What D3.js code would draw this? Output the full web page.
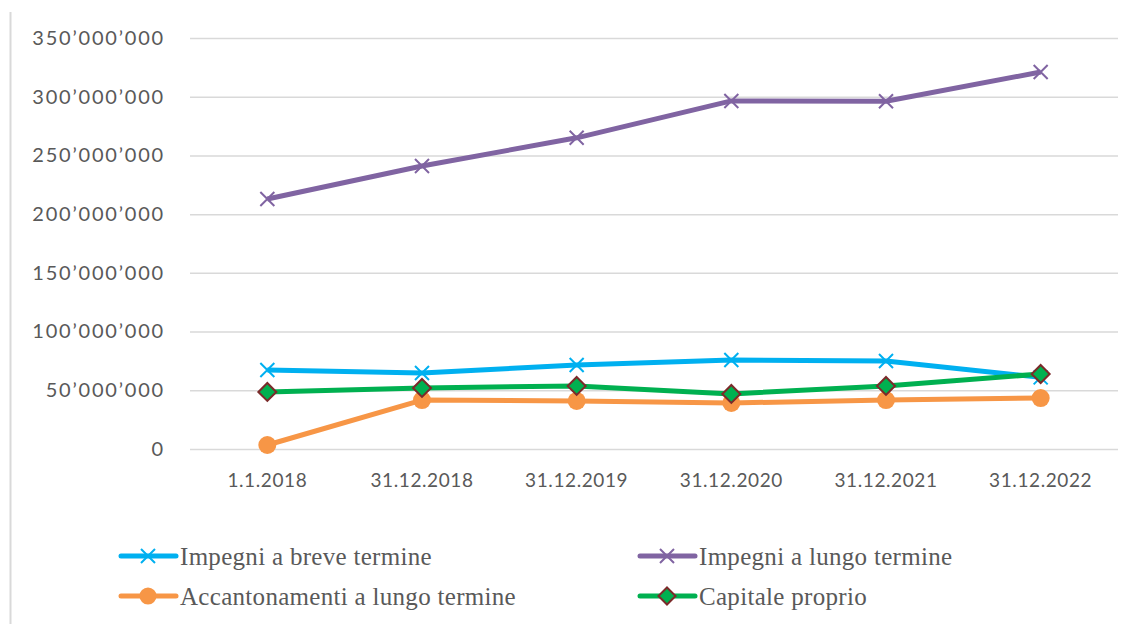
<!DOCTYPE html>
<html lang="en">
<head>
<meta charset="utf-8">
<title>Impegni e capitale</title>
<script src="https://cdn.jsdelivr.net/npm/d3@7"></script>
<style>
  body { margin: 0; background: #fff; }
  .tick text { fill: #595959; font-family: Lato, "Noto Sans", sans-serif; }
  .legend text { fill: #595959; font-family: "Liberation Serif", "DejaVu Serif", serif; }
</style>
</head>
<body>
<script>
// categories and series
var categories = ["1.1.2018", "31.12.2018", "31.12.2019", "31.12.2020", "31.12.2021", "31.12.2022"];
var breve = [67300000, 64700000, 71500000, 75800000, 75000000, 61000000];
var lungo = [212900000, 241000000, 265000000, 296400000, 296200000, 321000000];
var accantonamenti = [3400000, 41700000, 40900000, 39200000, 41700000, 43400000];
var capitale = [48600000, 52000000, 53700000, 46900000, 53700000, 63900000];
var yTicks = [0, 50000000, 100000000, 150000000, 200000000, 250000000, 300000000, 350000000];

var series = [
  {name: "Impegni a breve termine", values: breve, color: "#00b0f0", marker: "x"},
  {name: "Impegni a lungo termine", values: lungo, color: "#8064a2", marker: "x"},
  {name: "Accantonamenti a lungo termine", values: accantonamenti, color: "#f79646", marker: "circle"},
  {name: "Capitale proprio", values: capitale, color: "#00b050", marker: "diamond"}
];

var w = 1134, h = 624;
var plotLeft = 190, plotRight = 1118, plotTop = 38, plotBottom = 449;

var svg = d3.select("body").append("svg")
  .attr("width", w)
  .attr("height", h);

// left frame edge
svg.append("line")
  .attr("x1", 10.5).attr("x2", 10.5)
  .attr("y1", 12).attr("y2", h)
  .attr("stroke", "#d9d9d9")
  .attr("stroke-width", 2);

var x = d3.scaleBand().domain(categories).range([plotLeft, plotRight]);
var y = d3.scaleLinear().domain([0, 350000000]).range([plotBottom, plotTop]);

var fmt = function(d) {
  return d3.format(",")(d).replace(/,/g, "\u2019");
};

// y axis with gridlines
var yAxis = svg.append("g")
  .attr("transform", "translate(" + plotLeft + ",0)")
  .call(d3.axisLeft(y).tickValues(yTicks).tickSize(-(plotRight - plotLeft)).tickPadding(25).tickFormat(fmt));
yAxis.select(".domain").remove();
yAxis.selectAll(".tick line").attr("stroke", "#d9d9d9").attr("stroke-width", 1.5);
yAxis.selectAll(".tick text").attr("font-size", 20).attr("letter-spacing", 1.8);

// x axis
var xAxis = svg.append("g")
  .attr("transform", "translate(0," + plotBottom + ")")
  .call(d3.axisBottom(x).tickSize(0).tickPadding(25));
xAxis.select(".domain").remove();
xAxis.selectAll(".tick text").attr("font-size", 19).attr("letter-spacing", 0.6);

var line = d3.line()
  .x(function(d, i) { return x(categories[i]) + x.bandwidth() / 2; })
  .y(function(d) { return y(d); });

function drawMarker(g, type, color, cx, cy, scale) {
  scale = scale || 1;
  if (type == "x") {
    var s = 7 * scale;
    g.append("path")
      .attr("d", "M" + (cx - s) + "," + (cy - s) + "L" + (cx + s) + "," + (cy + s) +
                 "M" + (cx - s) + "," + (cy + s) + "L" + (cx + s) + "," + (cy - s))
      .attr("stroke", color)
      .attr("stroke-width", 2)
      .attr("fill", "none");
  } else if (type == "circle") {
    g.append("circle")
      .attr("cx", cx).attr("cy", cy)
      .attr("r", 9 * scale)
      .attr("fill", color);
  } else {
    var r = 9 * scale;
    g.append("path")
      .attr("d", "M" + cx + "," + (cy - r) + "L" + (cx + r) + "," + cy + "L" + cx + "," + (cy + r) + "L" + (cx - r) + "," + cy + "Z")
      .attr("fill", color)
      .attr("stroke", "#7b2a2a")
      .attr("stroke-width", 2);
  }
}

series.forEach(function(s) {
  var g = svg.append("g");
  g.append("path")
    .attr("d", line(s.values))
    .attr("fill", "none")
    .attr("stroke", s.color)
    .attr("stroke-width", 5)
    .attr("stroke-linejoin", "round");
  s.values.forEach(function(v, i) {
    drawMarker(g, s.marker, s.color, x(categories[i]) + x.bandwidth() / 2, y(v));
  });
});

// legend
var legendPos = [[121, 556], [640, 556], [121, 596], [640, 596]];
var legend = svg.append("g").attr("class", "legend");
series.forEach(function(s, i) {
  var p = legendPos[i];
  legend.append("line")
    .attr("x1", p[0]).attr("x2", p[0] + 55)
    .attr("y1", p[1]).attr("y2", p[1])
    .attr("stroke", s.color)
    .attr("stroke-width", 5)
    .attr("stroke-linecap", "round");
  drawMarker(legend, s.marker, s.color, p[0] + 27, p[1], s.marker == "x" ? 1 : 0.95);
  legend.append("text")
    .attr("x", p[0] + 59)
    .attr("y", p[1])
    .attr("dy", "0.35em")
    .attr("font-size", 25)
    .attr("letter-spacing", 0.3)
    .text(s.name);
});
</script>
</body>
</html>
